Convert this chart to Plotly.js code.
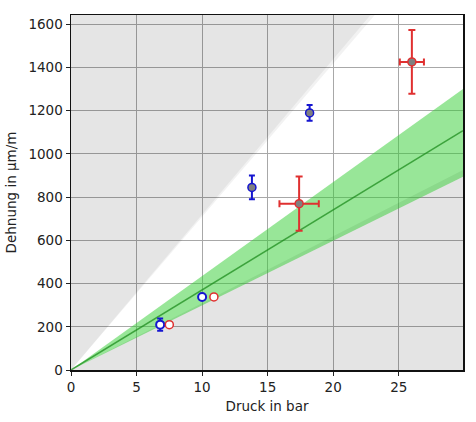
<!DOCTYPE html>
<html>
<head>
<meta charset="utf-8">
<script src="https://cdn.plot.ly/plotly-3.0.1.min.js"></script>
<style>html,body{margin:0;padding:0;background:#fff;}#chart{width:476px;height:422px;}</style>
</head>
<body>
<div id="chart"></div>
<script>
// Region boundaries (end points at x = 0 and x = 29.9)
const lineX = [0, 29.9];
const grayUpperA = [0, 2120];   // upper excluded region, outer edge
const grayUpperB = [0, 2150];   // upper excluded region, inner edge
const grayLower = [0, 926];     // lower excluded region boundary
const bandUpper = [0, 1300];
const bandCenter = [0, 1108];
const bandLower = [0, 894];

// Measurements: filled markers
const blueX = [13.8, 18.2];
const blueY = [845, 1190];
const blueYErr = [55, 37];
const redX = [17.4, 26.0];
const redY = [770, 1426];
const redYErr = [125, 148];
const redXErr = [1.5, 0.92];

// Measurements: open markers
const blueOpenX = [6.8, 10.0];
const blueOpenY = [210, 338];
const blueOpenYErr = [28, 10];
const redOpenX = [7.5, 10.9];
const redOpenY = [210, 338];

const xMax = 29.9, yMax = 1643;
const fillTop = 5000;

const traces = [];
// upper gray region (two layers -> lighter edge strip)
[grayUpperA, grayUpperB].forEach(b => {
  traces.push({x: [lineX[0], lineX[1], lineX[0]], y: [b[0], b[1], fillTop], mode: 'none',
    fill: 'toself', fillcolor: 'rgba(0,0,0,0.052)', hoverinfo: 'skip', showlegend: false});
});
// lower gray region
traces.push({x: [lineX[0], lineX[1], lineX[1]], y: [grayLower[0], grayLower[1], 0], mode: 'none',
  fill: 'toself', fillcolor: 'rgba(0,0,0,0.105)', hoverinfo: 'skip', showlegend: false});
// green band
traces.push({x: lineX.concat(lineX.slice().reverse()), y: bandUpper.concat(bandLower.slice().reverse()),
  mode: 'none', fill: 'toself', fillcolor: 'rgba(50,205,50,0.5)', hoverinfo: 'skip', showlegend: false});
traces.push({x: lineX, y: bandCenter, mode: 'lines', line: {color: 'rgba(30,140,30,0.75)', width: 1.5},
  hoverinfo: 'skip', showlegend: false});

// open markers
traces.push({x: blueOpenX, y: blueOpenY, mode: 'markers', showlegend: false,
  error_y: {type: 'data', array: blueOpenYErr, color: '#1515d0', thickness: 2, width: 3},
  marker: {size: 8, color: 'white', line: {color: '#1515d0', width: 2}}});
traces.push({x: redOpenX, y: redOpenY, mode: 'markers', showlegend: false,
  marker: {size: 8, color: 'white', line: {color: '#e03030', width: 1.5}}});

// filled markers
traces.push({x: blueX, y: blueY, mode: 'markers', showlegend: false,
  error_y: {type: 'data', array: blueYErr, color: '#1515d0', thickness: 2, width: 3},
  marker: {size: 8, color: '#808080', line: {color: '#1515d0', width: 1.5}}});
traces.push({x: redX, y: redY, mode: 'markers', showlegend: false,
  error_y: {type: 'data', array: redYErr, color: '#e03030', thickness: 2, width: 3.5},
  error_x: {type: 'data', array: redXErr, color: '#e03030', thickness: 2, width: 3.5},
  marker: {size: 8, color: '#808080', line: {color: '#e03030', width: 1.5}}});

const font = {family: 'DejaVu Sans, sans-serif', size: 13.5, color: '#222'};
const layout = {
  width: 476, height: 422,
  margin: {l: 71, r: 13, t: 15, b: 52},
  paper_bgcolor: 'white', plot_bgcolor: 'white',
  font: font,
  showlegend: false,
  xaxis: {range: [0, xMax], tickvals: [0, 5, 10, 15, 20, 25], showgrid: true, gridcolor: '#a8a8a8', gridwidth: 1,
    zeroline: false, showline: true, mirror: true, linecolor: '#111', linewidth: 1.5,
    ticks: 'outside', ticklen: 4, tickcolor: '#222', tickfont: font,
    title: {text: 'Druck in bar', font: font, standoff: 8}},
  yaxis: {range: [0, yMax], tickvals: [0, 200, 400, 600, 800, 1000, 1200, 1400, 1600], showgrid: true,
    gridcolor: '#a8a8a8', gridwidth: 1, zeroline: false, showline: true, mirror: true, linecolor: '#111',
    linewidth: 1.5, ticks: 'outside', ticklen: 4, tickcolor: '#222', tickfont: font,
    title: {text: 'Dehnung in µm/m', font: font, standoff: 8}}
};
Plotly.newPlot('chart', traces, layout, {staticPlot: true, displayModeBar: false});
</script>
</body>
</html>
